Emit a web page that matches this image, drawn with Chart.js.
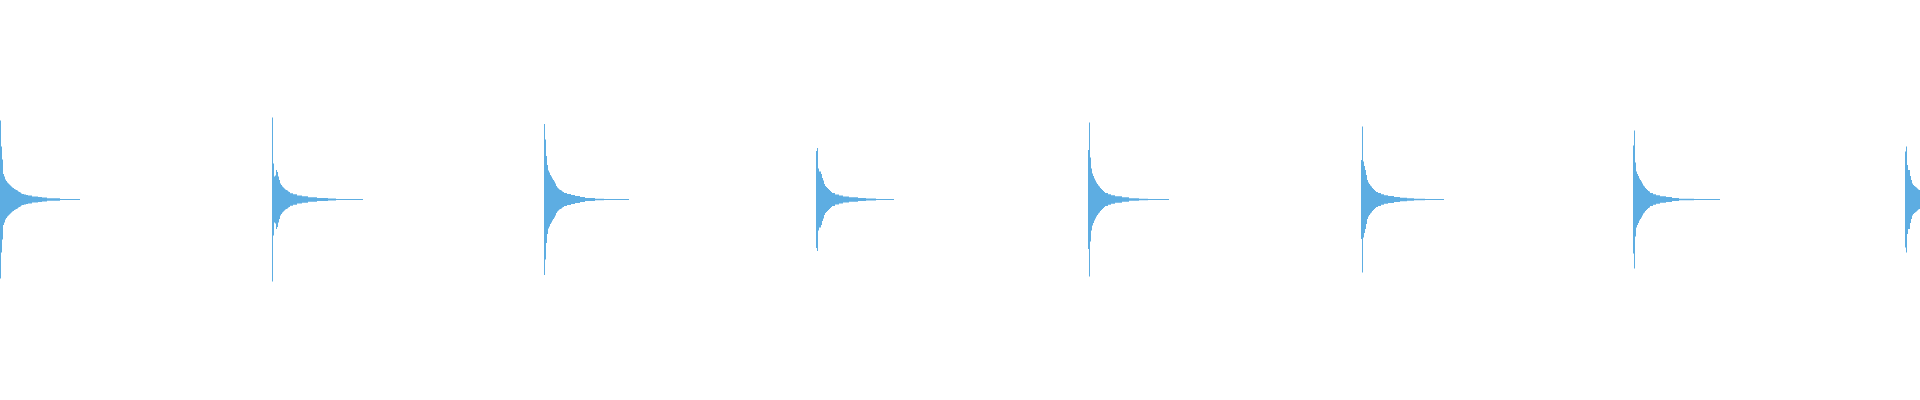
<!DOCTYPE html>
<html>
<head>
<meta charset="utf-8">
<script src="https://cdn.jsdelivr.net/npm/chart.js@4.4.1/dist/chart.umd.min.js"></script>
<style>
  html, body { margin: 0; padding: 0; background: #ffffff; }
  #wrap { width: 1920px; height: 400px; }
  canvas { display: block; }
</style>
</head>
<body>
<div id="wrap"><canvas id="c" width="1920" height="400"></canvas></div>
<script>
// Total number of sample columns on the x axis
const sampleCount = 1920;

// Sample index where each burst starts
const burstStarts = [0, 272, 544, 816, 1088, 1361, 1633, 1905];

// Envelope amplitude of each burst, one value per sample column
const burst1 = [79,53,40,25.5,23,20,18.5,17,16,15,
  14,13,12,11.5,10.5,10,9.5,9,8,7.5,
  7,6,5.5,5.5,5,5,4.5,4.5,4,4,
  4,4,3,3,3,3,3,3,2.5,2.5,
  2.5,2.5,2,2,2,2,2,1.2,1.2,1.2,
  1.2,1.2,1.2,1.2,1.2,1.2,1.2,1.2,1.2,1.2,
  0.5,0.5,0.5,0.5,0.5,0.5,0.5,0.5,0.5,0.5,
  0.5,0.5,0.5,0.5,0.5,0.5,0.5,0.5,0.5,0.5];

const burst2 = [82,36,23,24,29.5,27.5,23,19.5,16,14.5,
  13,12,11,10,9.5,9,8,7.5,6.2,6.2,
  6.2,5.2,5.2,5.2,5.2,4,4,4,4,4,
  3.2,3.2,3.2,3.2,3.2,3.2,
  2.2,2.2,2.2,2.2,2.2,2.2,2.2,2.2,2.2,
  1.5,1.5,1.5,1.5,1.5,1.5,1.5,1.5,1.5,1.5,1.5,
  1,1,1,1,1,1,1,1,
  0.5,0.5,0.5,0.5,0.5,0.5,0.5,0.5,0.5,0.5,
  0.5,0.5,0.5,0.5,0.5,0.5,0.5,0.5,0.5,0.5,
  0.5,0.5,0.5,0.5,0.5,0.5,0.5];

const burst3 = [75.5,60,43.5,34.5,29,27,24.5,23,21,19.5,
  18,16,13.5,12,11,10,9.5,9,8,7.5,
  6.5,6.5,6.5,5.5,5.5,5.5,5.5,4.5,4.5,4.5,
  4.5,3.5,3.5,3.5,3.5,3.5,2.5,2.5,2.5,2.5,
  2.5,
  1.6,1.6,1.6,1.6,1.6,1.6,1.6,1.6,1.6,1.6,
  0.8,0.8,0.8,0.8,0.8,0.8,0.8,0.8,0.8,
  0.5,0.5,0.5,0.5,0.5,0.5,0.5,0.5,0.5,0.5,
  0.5,0.5,0.5,0.5,0.5,0.5,0.5,0.5,0.5,0.5,
  0.5,0.5,0.5,0.5,0.5];

const burst4 = [48.5,51.5,31,28,28,25.5,21.5,19,15.5,13.5,
  12.5,11.5,10.5,9.5,8.5,7.5,6.5,6.5,6.5,5,
  5,5,5,4,4,4,4,3,3,3,
  3,3,3,
  2.2,2.2,2.2,2.2,2.2,2.2,2.2,2.2,2.2,
  1.5,1.5,1.5,1.5,1.5,1.5,1.5,1.5,
  1,1,1,1,1,1,1,1,1,1,
  0.5,0.5,0.5,0.5,0.5,0.5,0.5,0.5,0.5,0.5,
  0.5,0.5,0.5,0.5,0.5,0.5,0.5,0.5];

const burst5 = [49.5,77,42,31,26,23.5,21,19,17,15.5,
  14,13,11.5,10.5,9.5,8.5,7.5,6.5,6.5,6.5,
  5.2,5.2,5.2,4.2,4.2,4.2,4.2,
  3.2,3.2,3.2,3.2,3.2,3.2,3.2,
  2.2,2.2,2.2,2.2,2.2,2.2,2.2,
  1.2,1.2,1.2,1.2,1.2,1.2,1.2,1.2,1.2,1.2,
  0.8,0.8,0.8,0.8,0.8,0.8,0.8,0.8,0.8,
  0.5,0.5,0.5,0.5,0.5,0.5,0.5,0.5,0.5,0.5,
  0.5,0.5,0.5,0.5,0.5,0.5,0.5,0.5,0.5,0.5,0.5];

const burst6 = [39.5,73,38,33.5,29.5,24.5,19.5,17,15.5,14,
  13,11.5,10.5,9.5,8.5,7.5,7.5,6.5,6.5,6.5,
  5.2,5.2,5.2,4.2,4.2,4.2,4.2,
  3.5,3.5,3.5,3.5,3.5,3.5,
  2.5,2.5,2.5,2.5,2.5,2.5,
  1.8,1.8,1.8,1.8,1.8,1.8,1.8,
  1.2,1.2,1.2,1.2,1.2,1.2,1.2,
  0.8,0.8,0.8,0.8,0.8,0.8,0.8,0.8,0.8,0.8,0.8,
  0.5,0.5,0.5,0.5,0.5,0.5,0.5,0.5,0.5,0.5,
  0.5,0.5,0.5,0.5,0.5,0.5,0.5,0.5,0.5];

const burst7 = [54,69,37,28,25.5,23.5,21,19.5,18,16,
  14,13,11.5,10.5,9.5,8.5,8,6.5,6.5,6.5,
  5.2,5.2,5.2,4.2,4.2,4.2,4.2,
  3.2,3.2,3.2,3.2,3.2,3.2,
  2.5,2.5,2.5,2.5,2.5,2.5,
  1.5,1.5,1.5,1.5,1.5,1.5,1.5,
  0.8,0.8,0.8,0.8,0.8,0.8,0.8,0.8,0.8,0.8,0.8,0.8,0.8,0.8,0.8,
  0.5,0.5,0.5,0.5,0.5,0.5,0.5,0.5,0.5,0.5,
  0.5,0.5,0.5,0.5,0.5,0.5,0.5,0.5,0.5,0.5,
  0.5,0.5,0.5,0.5,0.5,0.5];

const burst8 = [48,53,34.5,29.5,29.5,23.5,19.5,16,14.5,13.5,12.8,12,11,10,9.5];

const bursts = [burst1, burst2, burst3, burst4, burst5, burst6, burst7, burst8];

// Build the table the library needs: one floating bar [min, max] per sample column
const labels = [];
const columns = [];
for (let i = 0; i < sampleCount; i++) { labels.push(i); columns.push(null); }
bursts.forEach((env, b) => {
  env.forEach((a, k) => {
    const idx = burstStarts[b] + k;
    if (idx < sampleCount) columns[idx] = [-a, a];
  });
});

new Chart(document.getElementById('c'), {
  type: 'bar',
  data: {
    labels: labels,
    datasets: [{
      data: columns,
      backgroundColor: '#5DADE2',
      borderWidth: 0,
      barPercentage: 1,
      categoryPercentage: 1,
      inflateAmount: 0
    }]
  },
  options: {
    responsive: false,
    animation: false,
    devicePixelRatio: 1,
    layout: { padding: 0 },
    plugins: { legend: { display: false }, tooltip: { enabled: false } },
    scales: {
      x: { display: false, offset: true },
      y: { display: false, min: -200.5, max: 199.5 }
    }
  }
});
</script>
</body>
</html>
